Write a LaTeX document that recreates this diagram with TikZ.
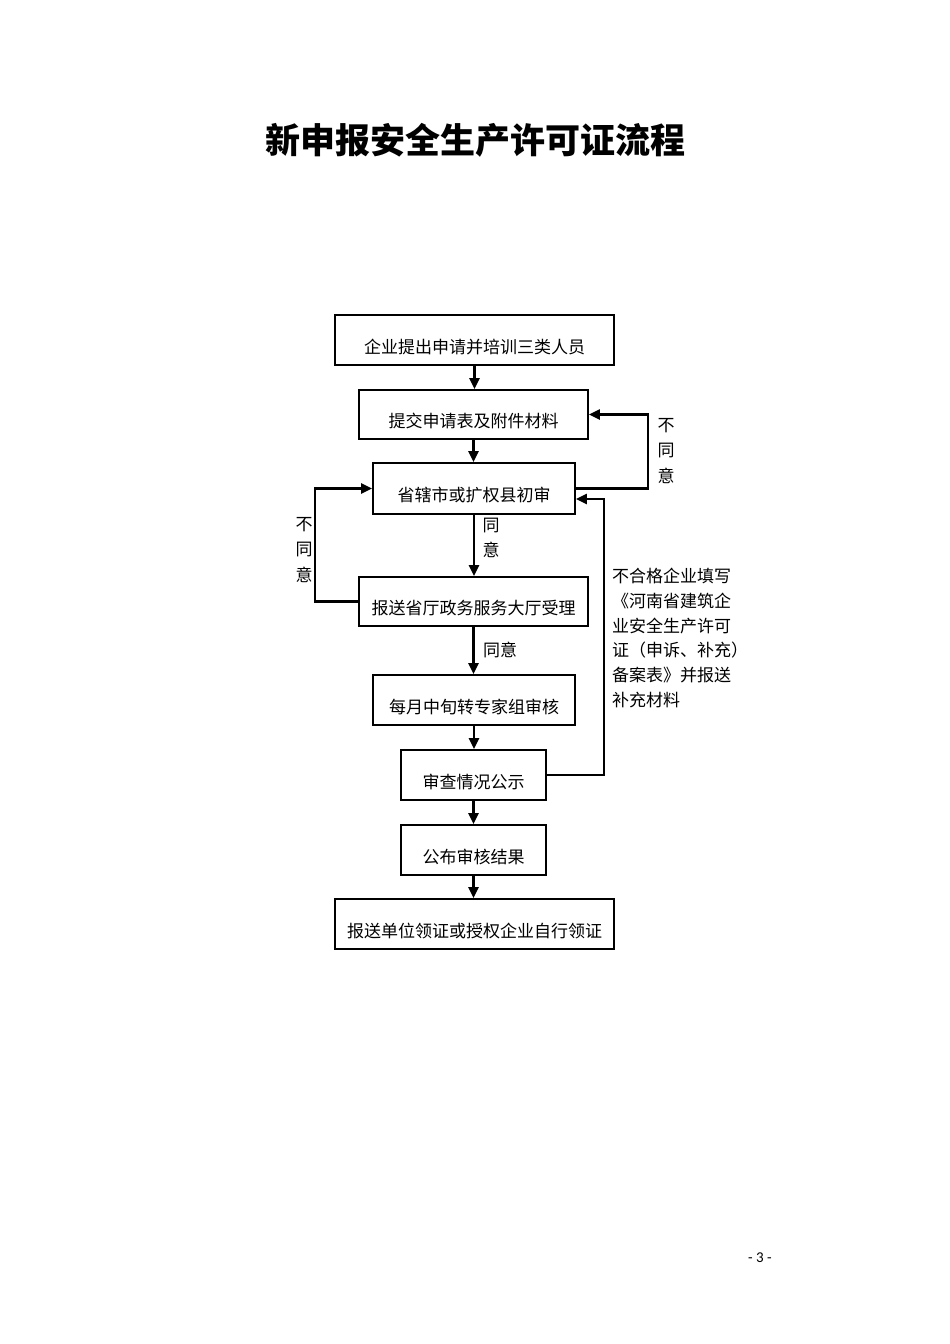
\documentclass[tikz,border=0pt]{standalone}
\usepackage{fontspec}
\newfontfamily\cjk{Noto Sans CJK SC}
\setmainfont{Carlito}
\usetikzlibrary{arrows.meta,positioning}
\begin{document}
\begin{tikzpicture}[x=1pt,y=-1pt,
  box/.style={draw, line width=1.8pt, inner sep=0pt, text height=26pt, text depth=0pt,
    font=\cjk\fontsize{17}{20}\selectfont},
  arr/.style={line width=2.2pt, -{Triangle[length=11pt,width=10pt]}},
  lbl/.style={font=\cjk\fontsize{17}{25.5}\selectfont, inner sep=0pt, align=center}]
\useasboundingbox (0,0) rectangle (950,1344);
\node[font=\cjk\bfseries\fontsize{35}{40}\selectfont] (title) at (475,140) {新申报安全生产许可证流程};
\node[box, minimum width=279pt, minimum height=50pt] (b1) at (474.5,340) {企业提出申请并培训三类人员};
\node[box, minimum width=229pt, minimum height=49pt] (b2) at (473.5,414.5) {提交申请表及附件材料};
\node[box, minimum width=202pt, minimum height=51pt] (b3) at (474,488.5) {省辖市或扩权县初审};
\node[box, minimum width=229pt, minimum height=49pt] (b4) at (473.5,601.5) {报送省厅政务服务大厅受理};
\node[box, minimum width=202pt, minimum height=50pt] (b5) at (474,700) {每月中旬转专家组审核};
\node[box, minimum width=145pt, minimum height=50pt] (b6) at (473.5,775) {审查情况公示};
\node[box, minimum width=145pt, minimum height=50pt] (b7) at (473.5,850) {公布审核结果};
\node[box, minimum width=279pt, minimum height=50pt] (b8) at (474.5,924) {报送单位领证或授权企业自行领证};
\foreach \a/\b in {b1/b2,b2/b3,b3/b4,b4/b5,b5/b6,b6/b7,b7/b8}
  \draw[arr] (\a.south) -- (\a.south |- \b.north);
\draw[arr] (b3.east) -- ++(72,0) |- (b2.east);
\draw[arr] (b4.west) -- ++(-43,0) |- (b3.west);
\draw[arr] (b6.east) -- ++(57,0) |- ([yshift=-10.5pt]b3.east);
\node[lbl] (l1) at (666,451) {不\\同\\意};
\node[lbl] (l2) at (304,550) {不\\同\\意};
\node[lbl] (l3) at (491,538) {同\\意};
\node[lbl] (l4) at (500,650) {同意};
\node[lbl, align=left, anchor=west, font=\cjk\fontsize{17}{24.8}\selectfont] (l5) at (612,638)
  {不合格企业填写\\《河南省建筑企\\业安全生产许可\\证（申诉、补充）\\备案表》并报送\\补充材料};
\node[font=\fontsize{15}{17}\selectfont] (pg) at (760,1258) {- 3 -};
\end{tikzpicture}
\end{document}
